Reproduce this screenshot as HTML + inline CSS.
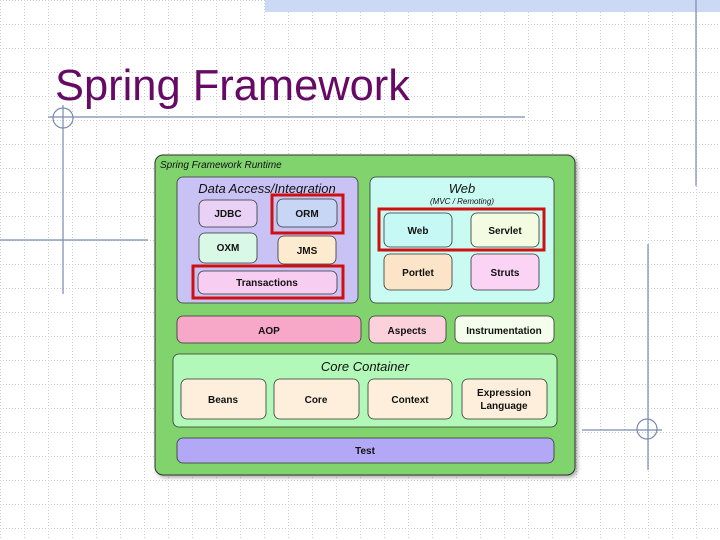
<!DOCTYPE html>
<html><head><meta charset="utf-8"><style>
html,body{margin:0;padding:0;background:#fff}
svg{display:block}
text{font-family:"Liberation Sans",Arial,sans-serif}
.b{font-weight:bold;font-size:10px;fill:#111;text-anchor:middle}
.n{stroke:#333;stroke-width:0.8}
</style></head><body>
<svg width="720" height="540" viewBox="0 0 720 540" xmlns="http://www.w3.org/2000/svg">
<defs>
<pattern id="g" width="24" height="24" patternUnits="userSpaceOnUse">
<path d="M0 0.5H24M0.5 0V24" stroke="#c8ccd8" stroke-width="1" stroke-dasharray="1,2" fill="none"/>
</pattern>
<filter id="sh" x="-5%" y="-5%" width="115%" height="115%"><feDropShadow dx="2" dy="2" stdDeviation="2" flood-color="#000" flood-opacity="0.35"/></filter>
</defs>
<rect width="720" height="540" fill="url(#g)"/>
<rect x="265" y="0" width="455" height="12" fill="#ccd9f5"/>
<g stroke="#7a8aad" stroke-width="1.2" fill="none">
<line x1="696" y1="0" x2="696" y2="186"/>
<line x1="48" y1="117" x2="525" y2="117"/>
<line x1="63" y1="105" x2="63" y2="294"/>
<circle cx="63" cy="118" r="10"/>
<line x1="0" y1="240" x2="148" y2="240"/>
<line x1="648" y1="244" x2="648" y2="470"/>
<line x1="582" y1="430" x2="662" y2="430"/>
<circle cx="647" cy="429" r="10"/>
</g>
<text x="55" y="100" font-size="44" fill="#660a66" textLength="355" lengthAdjust="spacingAndGlyphs">Spring Framework</text>

<rect x="155" y="155" width="420" height="320" rx="8" fill="#80d36d" stroke="#333" stroke-width="1" filter="url(#sh)"/>
<text x="160" y="168" font-size="10" font-style="italic" fill="#111">Spring Framework Runtime</text>

<rect class="n" x="177" y="177" width="181" height="126" rx="6" fill="#c8c3f4"/>
<text x="267" y="193" font-size="13" font-style="italic" fill="#111" text-anchor="middle">Data Access/Integration</text>
<rect class="n" x="199" y="200" width="58" height="27" rx="6" fill="#e8d1f5"/><text class="b" x="228" y="217">JDBC</text>
<rect class="n" x="277" y="199" width="60" height="28" rx="6" fill="#c8d6f5"/><text class="b" x="307" y="217">ORM</text>
<rect class="n" x="199" y="233" width="58" height="30" rx="6" fill="#d9f8e6"/><text class="b" x="228" y="251">OXM</text>
<rect class="n" x="278" y="236" width="58" height="28" rx="6" fill="#fdebd0"/><text class="b" x="307" y="254">JMS</text>
<rect class="n" x="198" y="271" width="139" height="23" rx="6" fill="#f8cdf2"/><text class="b" x="267" y="286">Transactions</text>

<rect class="n" x="370" y="177" width="184" height="126" rx="6" fill="#c9fbf3"/>
<text x="462" y="193" font-size="13" font-style="italic" fill="#111" text-anchor="middle">Web</text>
<text x="462" y="204" font-size="8" font-style="italic" fill="#111" text-anchor="middle">(MVC / Remoting)</text>
<rect class="n" x="384" y="213" width="68" height="34" rx="6" fill="#c6f8f6"/><text class="b" x="418" y="234">Web</text>
<rect class="n" x="471" y="213" width="68" height="34" rx="6" fill="#f3fbe0"/><text class="b" x="505" y="234">Servlet</text>
<rect class="n" x="384" y="254" width="68" height="36" rx="6" fill="#fbe4c8"/><text class="b" x="418" y="276">Portlet</text>
<rect class="n" x="471" y="254" width="68" height="36" rx="6" fill="#fbd3f5"/><text class="b" x="505" y="276">Struts</text>

<g fill="none" stroke="#d01010" stroke-width="3">
<rect x="272" y="195" width="71" height="38"/>
<rect x="193" y="266" width="150" height="32"/>
<rect x="379" y="209" width="165" height="41"/>
</g>

<rect class="n" x="177" y="316" width="184" height="27" rx="6" fill="#f7a8c8"/><text class="b" x="269" y="334">AOP</text>
<rect class="n" x="369" y="316" width="77" height="27" rx="6" fill="#fbd1dc"/><text class="b" x="407" y="334">Aspects</text>
<rect class="n" x="455" y="316" width="99" height="27" rx="6" fill="#f5fdec"/><text class="b" x="504" y="334">Instrumentation</text>

<rect class="n" x="173" y="354" width="384" height="73" rx="6" fill="#b2f9b9"/>
<text x="365" y="371" font-size="13" font-style="italic" fill="#111" text-anchor="middle">Core Container</text>
<rect class="n" x="181" y="379" width="85" height="40" rx="6" fill="#fdefdc"/><text class="b" x="223" y="403">Beans</text>
<rect class="n" x="274" y="379" width="85" height="40" rx="6" fill="#fdefdc"/><text class="b" x="316" y="403">Core</text>
<rect class="n" x="368" y="379" width="84" height="40" rx="6" fill="#fdefdc"/><text class="b" x="410" y="403">Context</text>
<rect class="n" x="462" y="379" width="85" height="40" rx="6" fill="#fdefdc"/><text class="b" x="504" y="396">Expression</text><text class="b" x="504" y="409">Language</text>

<rect class="n" x="177" y="438" width="377" height="25" rx="6" fill="#b3a8f5"/><text class="b" x="365" y="454">Test</text>
</svg>
</body></html>
